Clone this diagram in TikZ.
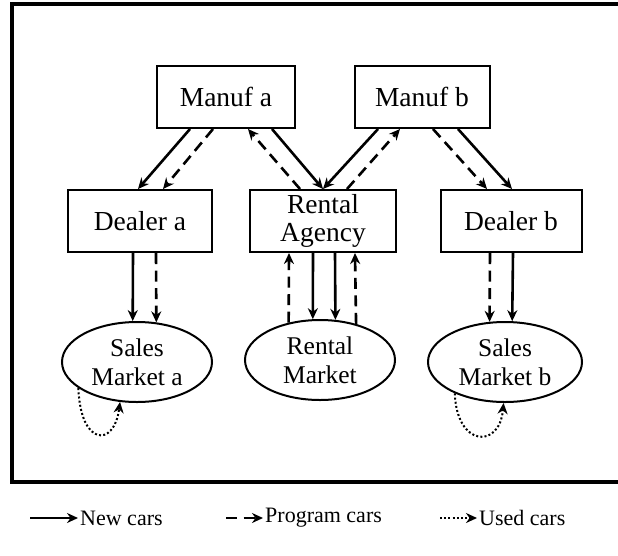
\documentclass[tikz,border=0pt]{standalone}
\usepackage{fontspec}
\setmainfont{Liberation Serif}
\usetikzlibrary{arrows.meta,calc,shapes.geometric}

\tikzset{
  x=1pt, y=1pt,
  boxnode/.style={draw, line width=2pt, rectangle, minimum height=62pt,
    inner sep=0pt, align=center, font=\fontsize{27.5}{28}\selectfont},
  mktnode/.style={draw, line width=2pt, ellipse, minimum width=150pt,
    minimum height=80pt, inner sep=0pt, align=center,
    font=\fontsize{25.5}{29}\selectfont},
  flow/.style={line width=2.6pt, -{Stealth[length=11pt,width=10pt]}},
  newcar/.style={flow},
  progcar/.style={flow, dash pattern=on 11pt off 6.5pt},
  usedcar/.style={flow, line width=2pt, dash pattern=on 2pt off 2.2pt},
  legtext/.style={anchor=west, inner sep=2pt, font=\fontsize{22}{24}\selectfont}
}

\begin{document}
\begin{tikzpicture}
\useasboundingbox (0,0) rectangle (618,-555);
\clip (0,0) rectangle (618,-555);

% outer frame (its right side runs past the page edge)
\draw[line width=3.4pt] (630,-4) -- (12,-4) -- (12,-482) -- (630,-482);

% producers, dealers and the rental agency
\node[boxnode, minimum width=138pt] (ma) at (226,-97) {Manuf a};
\node[boxnode, minimum width=135pt] (mb) at (422,-97) {Manuf b};
\node[boxnode, minimum width=144pt] (da) at (140,-221) {Dealer a};
\node[boxnode, minimum width=146pt] (ra) at (323,-221) {Rental\\Agency};
\node[boxnode, minimum width=141pt] (db) at (511,-221) {Dealer b};

% markets
\node[mktnode] (sa) at (137,-362) {Sales\\Market a};
\node[mktnode] (rm) at (320,-360) {Rental\\Market};
\node[mktnode, minimum width=154pt] (sb) at (505,-362) {Sales\\Market b};

% manufacturer a
\draw[newcar]  ([xshift=-36pt]ma.south) -- ([xshift=-2pt]da.north);
\draw[progcar] ([xshift=-13pt]ma.south) -- ([xshift=23pt]da.north);
\draw[progcar] ([xshift=-23pt]ra.north) -- ([xshift=22pt]ma.south);
\draw[newcar]  ([xshift=46pt]ma.south) -- (ra.north);

% manufacturer b
\draw[newcar]  ([xshift=-44pt]mb.south) -- (ra.north);
\draw[progcar] ([xshift=24pt]ra.north) -- ([xshift=-22pt]mb.south);
\draw[progcar] ([xshift=11pt]mb.south) -- ([xshift=-24pt]db.north);
\draw[newcar]  ([xshift=36pt]mb.south) -- ([xshift=1pt]db.north);

% dealers to sales markets
\draw[newcar]  ([xshift=-7pt]da.south) -- (sa.96);
\draw[progcar] ([xshift=16pt]da.south) -- (sa.64);
\draw[progcar] ([xshift=-21pt]db.south) -- (sb.111);
\draw[newcar]  ([xshift=2pt]db.south)  -- (sb.80);

% rental agency and rental market
\draw[progcar] (rm.130) -- ([xshift=-34pt]ra.south);
\draw[newcar]  ([xshift=-10pt]ra.south) -- (rm.100);
\draw[newcar]  ([xshift=12pt]ra.south) -- (rm.69);
\draw[progcar] (rm.45) -- ([xshift=32pt]ra.south);

% used cars staying in the sales markets
\draw[usedcar] (sa.204) .. controls +(2,-58) and +(-6,-46) .. (sa.247);
\draw[usedcar] (sb.212) .. controls +(2,-54) and +(-4,-46) .. (sb.268);

% legend
\coordinate (l1a) at (30,-518);
\coordinate (l1b) at (78,-518);
\node[legtext] (l1t) at (l1b) {New cars};
\draw[newcar] (l1a) -- (l1b);

\coordinate (l2a) at (226,-518);
\coordinate (l2b) at (263,-518);
\node[legtext] (l2t) at (l2b) {Program cars};
\draw[progcar] (l2a) -- (l2b);

\coordinate (l3a) at (440,-518);
\coordinate (l3b) at (477,-518);
\node[legtext] (l3t) at (l3b) {Used cars};
\draw[usedcar] (l3a) -- (l3b);
\end{tikzpicture}
\end{document}
